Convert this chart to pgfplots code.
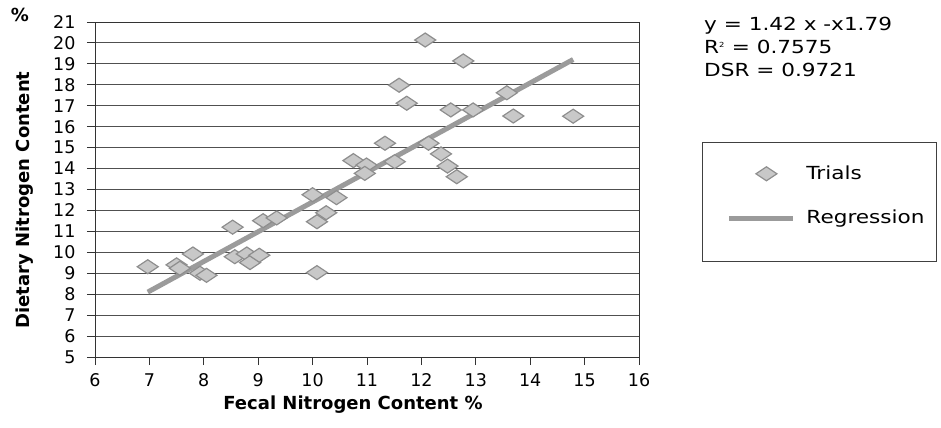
\documentclass[border=0pt]{standalone}
\usepackage{fontspec}
\setmainfont{DejaVu Sans}
\newfontfamily\widefont{DejaVu Sans}[FakeStretch=1.2]
\usepackage{pgfplots}
\pgfplotsset{compat=1.18}

\definecolor{gridc}{HTML}{505050}
\definecolor{markfill}{HTML}{C8C8C8}
\definecolor{markdraw}{HTML}{8E8E8E}
\definecolor{regc}{HTML}{9B9B9B}

\pgfplotsset{
  regleg/.style={legend image code/.code={\path[draw=none] (-27bp,-20bp) rectangle (77bp,0bp); \draw[##1] (0bp,0bp) -- (64bp,0bp);}},
  trileg/.style={legend image code/.code={\path[draw=none] (-27bp,0bp) -- (77bp,0bp); \draw[##1, only marks] plot coordinates {(37bp,0bp)};}},
}

\begin{document}
\begin{tikzpicture}
\path[use as bounding box] (-95bp,-71bp) rectangle (846bp,357bp);
\begin{axis}[
  scale only axis,
  width=544bp, height=335bp,
  xmin=6, xmax=16, ymin=5, ymax=21,
  xtick={6,...,16}, ytick={5,...,21},
  xtick pos=left, ytick pos=left,
  ymajorgrids,
  grid style={gridc, line width=0.9bp},
  axis line style={black!80, line width=0.9bp},
  tick align=outside, major tick length=8bp,
  tick style={black!80, line width=0.9bp},
  tick label style={font=\fontsize{17.5bp}{21bp}\selectfont},
  yticklabel style={xshift=-8bp},
  xticklabel style={yshift=-5bp},
  /pgf/number format/assume math mode=true,
  clip=false,
  reverse legend,
  legend cell align=left,
  legend style={at={(rel axis cs:1.1158,0.6418)}, anchor=north west,
    draw=black!75, line width=0.9bp, inner xsep=0pt, inner ysep=23bp,
    row sep=28bp,
    font=\widefont\fontsize{18bp}{22bp}\selectfont,
    nodes={inner sep=0pt, text width=130bp, text depth=3bp}},
]
% regression line
\addplot[regc, line width=5bp, regleg]
  coordinates {(6.97,8.10) (14.79,19.21)};
\addlegendentry{Regression}
% trials
\addplot[only marks, mark=diamond*, mark size=7bp,
  mark options={xscale=2, fill=markfill, draw=markdraw, line width=1.2bp}, trileg]
  coordinates {
    (6.97,9.31) (7.50,9.40) (7.56,9.24) (7.80,9.92) (7.93,9.00) (8.05,8.90)
    (8.53,11.20) (8.57,9.79) (8.79,9.92) (8.85,9.51) (9.02,9.86) (9.09,11.51)
    (9.34,11.64) (10.00,12.75) (10.08,11.46) (10.25,11.89) (10.44,12.61)
    (10.08,9.03) (10.75,14.38) (10.99,14.17) (10.96,13.77) (11.33,15.21)
    (11.51,14.33) (11.59,17.98) (11.73,17.12) (12.07,20.14) (12.13,15.21)
    (12.36,14.70) (12.48,14.12) (12.65,13.61) (12.54,16.80) (12.77,19.14)
    (12.95,16.80) (13.57,17.62) (13.69,16.51) (14.79,16.50)
  };
\addlegendentry{Trials}

\node[anchor=north west, align=left, inner sep=0pt,
  font=\widefont\fontsize{18bp}{23bp}\selectfont] at (rel axis cs:1.1195,1.015)
  {y = 1.42 x -x1.79\\R\textsuperscript{\fontsize{7bp}{7bp}\selectfont 2} = 0.7575\\DSR = 0.9721};
\node[rotate=90, font=\bfseries\fontsize{18bp}{21bp}\selectfont] at (rel axis cs:-0.1287,0.4687)
  {Dietary Nitrogen Content};
\node[font=\bfseries\fontsize{18bp}{21bp}\selectfont] at (rel axis cs:-0.1379,1.0209) {\%};
\node[font=\bfseries\fontsize{18bp}{21bp}\selectfont] at (rel axis cs:0.4743,-0.1433)
  {Fecal Nitrogen Content \%};
\end{axis}
\end{tikzpicture}
\end{document}
